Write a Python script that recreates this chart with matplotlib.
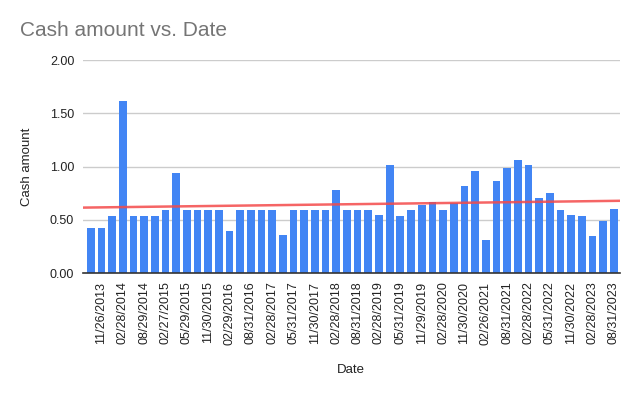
import numpy as np
import matplotlib
matplotlib.use("Agg")
import matplotlib.pyplot as plt

plt.rcParams['font.family'] = ['Liberation Sans', 'DejaVu Sans']

# cash amount per payment, in order (50 bars)
cash = [0.42, 0.42, 0.54, 1.62, 0.54, 0.54, 0.54, 0.59, 0.94, 0.59,
        0.59, 0.59, 0.59, 0.40, 0.59, 0.59, 0.59, 0.59, 0.36, 0.59,
        0.59, 0.59, 0.59, 0.78, 0.59, 0.59, 0.59, 0.55, 1.02, 0.54,
        0.59, 0.64, 0.67, 0.59, 0.66, 0.82, 0.96, 0.31, 0.87, 0.99,
        1.06, 1.02, 0.71, 0.75, 0.59, 0.55, 0.54, 0.35, 0.49, 0.60]

# only every other date is labelled on the axis
date_labels = ['11/26/2013', '02/28/2014', '08/29/2014', '02/27/2015', '05/29/2015',
               '11/30/2015', '02/29/2016', '08/31/2016', '02/28/2017', '05/31/2017',
               '11/30/2017', '02/28/2018', '08/31/2018', '02/28/2019', '05/31/2019',
               '11/29/2019', '02/28/2020', '11/30/2020', '02/26/2021', '08/31/2021',
               '02/28/2022', '05/31/2022', '11/30/2022', '02/28/2023', '08/31/2023']

y_ticks = [0.0, 0.5, 1.0, 1.5, 2.0]

x = np.arange(len(cash))

fig = plt.figure(figsize=(6.4, 3.96), dpi=100)
ax = fig.add_axes([0.129, 0.31, 0.84, 0.538])

ax.bar(x, cash, width=0.72, color='#4285f4', zorder=3)

# linear trendline across the whole plot
xmin, xmax = -0.78, 49.6
slope, icpt = np.polyfit(x, cash, 1)
tx = np.array([xmin, xmax])
ax.plot(tx, slope * tx + icpt, color='#f44a4a', lw=1.8, alpha=0.85, zorder=4)

ax.set_xlim(xmin, xmax)
ax.set_ylim(0, 2.0)
ax.set_yticks(y_ticks)
ax.set_yticklabels([f'{v:.2f}' for v in y_ticks])
ax.set_xticks(x[1::2])
ax.set_xticklabels(date_labels, rotation=90)

ax.grid(axis='y', color='#cccccc', lw=1, zorder=0)
for s in ['top', 'right', 'left']:
    ax.spines[s].set_visible(False)
ax.spines['bottom'].set_color('#333333')
ax.spines['bottom'].set_linewidth(1.2)
ax.spines['bottom'].set_zorder(5)
ax.tick_params(axis='both', length=0, labelsize=9, colors='#222222')
ax.tick_params(axis='x', pad=6)
ax.tick_params(axis='y', pad=6)

ax.set_xlabel('Date', fontsize=9.5, color='#222222', labelpad=14)
ax.set_ylabel('Cash amount', fontsize=9.5, color='#222222', labelpad=12)

fig.text(0.031, 0.922, 'Cash amount vs. Date', fontsize=15, color='#757575', va='center')

fig.savefig('out.png', dpi=100, facecolor='white')
